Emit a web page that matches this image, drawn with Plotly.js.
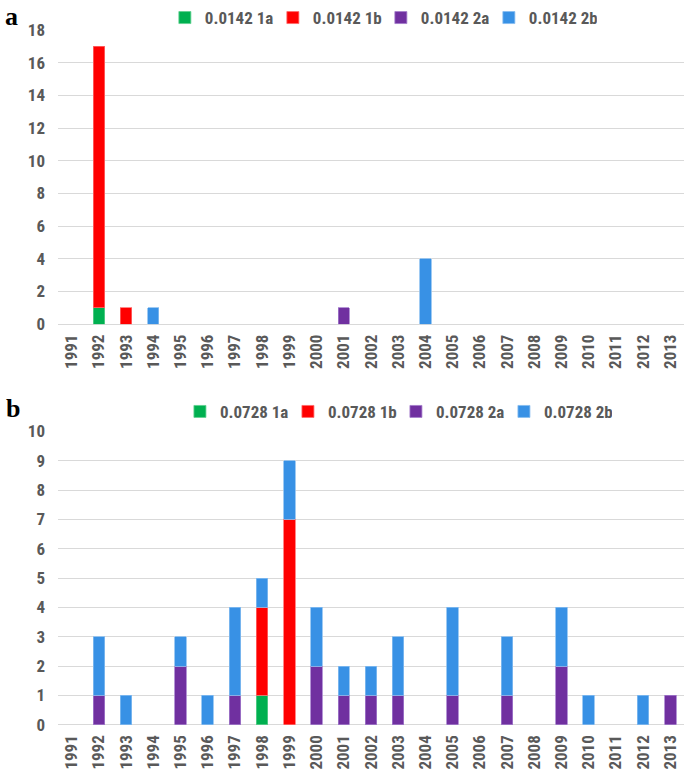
<!DOCTYPE html>
<html><head><meta charset="utf-8">
<script src="https://cdn.plot.ly/plotly-3.0.1.min.js"></script>
<style>body{margin:0;padding:0;background:#fff}#chart{width:685px;height:770px}</style>
</head><body><div id="chart"></div>
<script>
const years = ["1991","1992","1993","1994","1995","1996","1997","1998","1999","2000","2001","2002","2003","2004","2005","2006","2007","2008","2009","2010","2011","2012","2013"];
// Panel a (0.0142)
const a_1a = [0,1,0,0,0,0,0,0,0,0,0,0,0,0,0,0,0,0,0,0,0,0,0];
const a_1b = [0,16,1,0,0,0,0,0,0,0,0,0,0,0,0,0,0,0,0,0,0,0,0];
const a_2a = [0,0,0,0,0,0,0,0,0,0,1,0,0,0,0,0,0,0,0,0,0,0,0];
const a_2b = [0,0,0,1,0,0,0,0,0,0,0,0,0,4,0,0,0,0,0,0,0,0,0];
// Panel b (0.0728)
const b_1a = [0,0,0,0,0,0,0,1,0,0,0,0,0,0,0,0,0,0,0,0,0,0,0];
const b_1b = [0,0,0,0,0,0,0,3,7,0,0,0,0,0,0,0,0,0,0,0,0,0,0];
const b_2a = [0,1,0,0,2,0,1,0,0,2,1,1,1,0,1,0,1,0,2,0,0,0,1];
const b_2b = [0,2,1,0,1,1,3,1,2,2,1,1,2,0,3,0,2,0,2,1,0,1,0];
const namesA = ["0.0142 1a","0.0142 1b","0.0142 2a","0.0142 2b"];
const namesB = ["0.0728 1a","0.0728 1b","0.0728 2a","0.0728 2b"];
const colors = ["#00B050","#FF0000","#7030A0","#3891E5"];
const edges = ["#5fd08f","#ff6a6a","#a37ccc","#86bdf0"];

const nz = v => v.map(d => d === 0 ? null : d);
const traces = [];
[a_1a,a_1b,a_2a,a_2b].forEach((v,i)=>{
  traces.push({type:'bar', x:years, y:nz(v), name:namesA[i], xaxis:'x', yaxis:'y', legend:'legend',
    marker:{color:colors[i], line:{color:edges[i], width:0.8}}, hoverinfo:'x+y+name'});
});
[b_1a,b_1b,b_2a,b_2b].forEach((v,i)=>{
  traces.push({type:'bar', x:years, y:nz(v), name:namesB[i], xaxis:'x2', yaxis:'y2', legend:'legend2',
    marker:{color:colors[i], line:{color:edges[i], width:0.8}}, hoverinfo:'x+y+name'});
});

const FAM = '"Liberation Sans Narrow", "Roboto Condensed", Roboto, sans-serif';
const tf = {family:FAM, size:17, color:'#595959', weight:700};
const xcommon = {type:'category', range:[-0.5,22.5], tickangle:-90, tickfont:tf, showgrid:false,
  showline:false, ticks:'', ticklabelstandoff:6, fixedrange:true};
const ycommon = {showgrid:true, gridcolor:'#D9D9D9', gridwidth:1, zeroline:true, zerolinecolor:'#D9D9D9',
  zerolinewidth:1, showline:false, ticks:'', tickfont:tf, ticklabelstandoff:12, fixedrange:true};

const legendCommon = {orientation:'h', xanchor:'center', yanchor:'middle', font:tf, bgcolor:'rgba(0,0,0,0)',
  traceorder:'normal', itemclick:false, itemdoubleclick:false, tracegroupgap:0, itemwidth:30,
  entrywidth:63, entrywidthmode:'pixels'};

const layout = {
  width:685, height:770, margin:{l:0,r:0,t:0,b:0}, paper_bgcolor:'#fff', plot_bgcolor:'#fff',
  barmode:'stack', bargap:0.58, showlegend:true,
  xaxis:Object.assign({}, xcommon, {domain:[0.0847,0.9985], anchor:'y'}),
  yaxis:Object.assign({}, ycommon, {domain:[0.582,0.966], range:[0,18], dtick:2, anchor:'x'}),
  xaxis2:Object.assign({}, xcommon, {domain:[0.0847,0.9985], anchor:'y2'}),
  yaxis2:Object.assign({}, ycommon, {domain:[0.059,0.442], range:[0,10], dtick:1, anchor:'x2'}),
  legend:Object.assign({}, legendCommon, {x:0.556, y:0.982}),
  legend2:Object.assign({}, legendCommon, {x:0.578, y:0.4675}),
  annotations:[
    {text:'a', xref:'paper', yref:'paper', x:0.004, y:1.005, xanchor:'left', yanchor:'top', showarrow:false,
     font:{family:'"Liberation Serif", "DejaVu Serif", serif', size:26, color:'#000', weight:700}},
    {text:'b', xref:'paper', yref:'paper', x:0.006, y:0.493, xanchor:'left', yanchor:'top', showarrow:false,
     font:{family:'"Liberation Serif", "DejaVu Serif", serif', size:26, color:'#000', weight:700}}
  ]
};
Plotly.newPlot('chart', traces, layout, {displayModeBar:false, staticPlot:true});
</script></body></html>
